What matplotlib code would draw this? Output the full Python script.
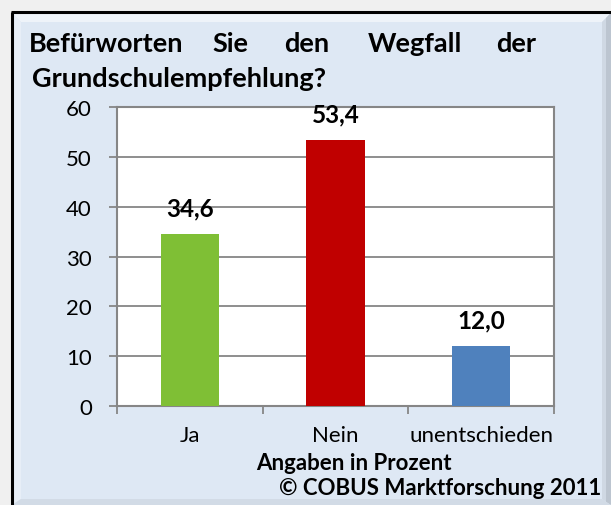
import matplotlib.pyplot as plt
from matplotlib.patches import Rectangle, Polygon

# data
categories = ['Ja', 'Nein', 'unentschieden']
values = [34.6, 53.4, 12.0]
value_labels = ['34,6', '53,4', '12,0']
bar_colors = ['#7fbf35', '#c00000', '#4f81bd']
yticks = [0, 10, 20, 30, 40, 50, 60]
title_words = ['Befürworten', 'Sie', 'den', 'Wegfall', 'der']
title_line2 = 'Grundschulempfehlung?'
xlabel = 'Angaben in Prozent'
source = '© COBUS Marktforschung 2011'

plt.rcParams['font.family'] = ['Lato', 'DejaVu Sans']

W, H = 611, 506
fig = plt.figure(figsize=(W / 100, H / 100), dpi=100)
fig.patch.set_facecolor('#f0f0f0')

# background panel, drawn in pixel coordinates
bg = fig.add_axes([0, 0, 1, 1])
bg.set_xlim(0, W)
bg.set_ylim(H, 0)
bg.axis('off')
bg.add_patch(Rectangle((11, 13), W, H, facecolor='#dee8f4', edgecolor='none'))
# bevel edges
bg.add_patch(Polygon([(12, 14), (W, 14), (W - 9, 23), (21, 23)], facecolor='#eef3f9', edgecolor='none'))
bg.add_patch(Polygon([(12, 14), (21, 23), (21, H - 6), (12, H)], facecolor='#e7eef7', edgecolor='none'))
bg.add_patch(Polygon([(W - 9, 23), (W, 14), (W, H), (W - 9, H - 6)], facecolor='#cfd8e3', edgecolor='none'))
bg.add_patch(Polygon([(W - 5, 19), (W, 14), (W, H), (W - 5, H - 3)], facecolor='#bcc5d0', edgecolor='none'))
bg.add_patch(Polygon([(21, H - 6), (W - 9, H - 6), (W, H), (12, H)], facecolor='#d2dbe6', edgecolor='none'))
bg.plot([11.5, 11.5], [12.5, H], color='black', lw=2.2, solid_capstyle='butt')
bg.plot([10.5, W], [13, 13], color='black', lw=2.2, solid_capstyle='butt')

# title, justified like in the original
word_centers = [106, 230, 307, 415, 516]
for w, xc in zip(title_words, word_centers):
    bg.text(xc, 52, w, ha='center', va='baseline', fontsize=19.5, fontweight='bold', color='black')
bg.text(32, 87, title_line2, ha='left', va='baseline', fontsize=19.5, fontweight='bold', color='black')

bg.text(354, 464, xlabel, ha='center', va='center', fontsize=16, fontweight='bold')
bg.text(601, 489, source, ha='right', va='center', fontsize=16, fontweight='bold')

# main chart
ax = fig.add_axes([117 / W, (H - 407) / H, (554 - 117) / W, (407 - 108) / H])
ax.set_facecolor('white')
x = range(len(categories))
ax.bar(x, values, width=0.4, color=bar_colors, zorder=3)
ax.set_xlim(-0.5, 2.5)
ax.set_ylim(0, 60)
ax.set_yticks(yticks)
ax.yaxis.grid(True, color='#868686', lw=1.3)
ax.set_axisbelow(True)
for s in ax.spines.values():
    s.set_color('#868686')
    s.set_linewidth(1.5)

ax.tick_params(axis='y', length=6, width=1.3, color='#868686', pad=12, labelsize=16)
ax.set_xticks(list(x))
ax.set_xticklabels(categories)
ax.tick_params(axis='x', which='major', length=0, pad=14, labelsize=16)
ax.set_xticks([-0.5, 0.5, 1.5, 2.5], minor=True)
ax.tick_params(axis='x', which='minor', length=6, width=1.3, color='#868686')

for i, (v, lab) in enumerate(zip(values, value_labels)):
    ax.annotate(lab, (i, v), xytext=(0, 26), textcoords='offset pixels',
                ha='center', va='center', fontsize=17.5, fontweight='bold')

fig.savefig('out.png', dpi=100)
